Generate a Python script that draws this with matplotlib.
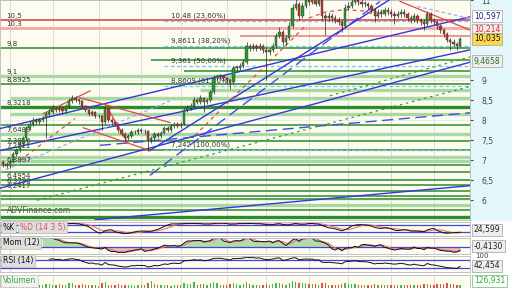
import numpy as np
import pandas as pd
import matplotlib
matplotlib.use("Agg")
import matplotlib.pyplot as plt
from matplotlib.patches import Rectangle
from matplotlib import transforms

# daily closes / highs / lows
closes = [6.90, 6.85, 6.95, 7.15, 7.25, 7.40, 7.55, 7.80, 7.90, 8.00,
          7.95, 8.00, 8.05, 8.15, 8.20, 8.30, 8.25, 8.30, 8.22, 8.35,
          8.47, 8.55, 8.50, 8.48, 8.35, 8.25, 8.15, 8.20, 8.10, 8.10,
          7.95, 8.30, 8.00, 7.95, 7.90, 7.75, 7.65, 7.55, 7.60, 7.70,
          7.70, 7.75, 7.72, 7.72, 7.50, 7.55, 7.65, 7.60, 7.68, 7.80,
          7.75, 7.85, 7.90, 7.85, 7.90, 8.25, 8.30, 8.35, 8.50, 8.45,
          8.55, 8.45, 8.50, 8.70, 9.05, 9.10, 9.10, 9.05, 9.00, 8.95,
          9.30, 9.30, 9.35, 9.45, 9.85, 9.80, 9.85, 9.80, 9.85, 9.75,
          9.70, 9.75, 9.85, 10.10, 10.20, 9.95, 10.05, 10.35, 10.80, 10.90,
          10.60, 10.85, 11.00, 10.95, 11.05, 10.90, 11.00, 10.60, 10.55, 10.60,
          10.55, 10.50, 10.45, 10.35, 10.80, 10.85, 10.95, 11.00, 10.95, 10.90,
          10.90, 10.85, 10.75, 10.60, 10.70, 10.65, 10.75, 10.70, 10.65, 10.60,
          10.65, 10.70, 10.65, 10.55, 10.50, 10.60, 10.50, 10.45, 10.40, 10.65,
          10.50, 10.45, 10.35, 10.25, 10.15, 10.00, 9.95, 9.90, 9.85, 10.035]
highs = [7.00, 6.95, 7.00, 7.20, 7.30, 7.45, 7.60, 7.85, 7.98, 8.08,
         8.05, 8.05, 8.10, 8.20, 8.28, 8.38, 8.35, 8.35, 8.33, 8.40,
         8.55, 8.62, 8.60, 8.55, 8.50, 8.38, 8.28, 8.25, 8.22, 8.15,
         8.12, 8.35, 8.32, 8.05, 7.98, 7.92, 7.80, 7.70, 7.65, 7.75,
         7.76, 7.80, 7.80, 7.78, 7.75, 7.60, 7.70, 7.70, 7.72, 7.85,
         7.85, 7.90, 7.95, 7.95, 7.95, 8.30, 8.38, 8.42, 8.58, 8.55,
         8.62, 8.58, 8.56, 8.75, 9.12, 9.15, 9.15, 9.12, 9.08, 9.05,
         9.35, 9.38, 9.42, 9.52, 9.95, 9.90, 9.92, 9.90, 9.92, 9.90,
         9.80, 9.80, 9.92, 10.18, 10.32, 10.25, 10.12, 10.45, 10.90, 11.05,
         10.95, 10.95, 11.10, 11.10, 11.15, 11.10, 11.10, 11.05, 10.68, 10.70,
         10.68, 10.62, 10.58, 10.50, 10.90, 10.95, 11.05, 11.10, 11.08, 11.02,
         10.98, 10.95, 10.90, 10.80, 10.78, 10.78, 10.82, 10.82, 10.78, 10.72,
         10.72, 10.78, 10.78, 10.70, 10.62, 10.68, 10.66, 10.56, 10.52, 10.72,
         10.70, 10.56, 10.50, 10.40, 10.30, 10.20, 10.05, 10.02, 9.95, 10.08]
lows = [6.82, 6.80, 6.80, 6.92, 7.10, 7.20, 7.35, 7.50, 7.75, 7.85,
        7.90, 7.90, 7.95, 7.55, 8.10, 8.15, 8.20, 8.20, 8.15, 8.18,
        8.30, 8.42, 8.45, 8.40, 8.30, 8.20, 8.10, 8.10, 8.05, 8.05,
        7.75, 7.90, 7.95, 7.88, 7.85, 7.70, 7.60, 7.48, 7.50, 7.55,
        7.65, 7.65, 7.68, 7.66, 7.24, 7.42, 7.50, 7.55, 7.55, 7.65,
        7.70, 7.70, 7.80, 7.80, 7.80, 7.88, 8.20, 8.25, 8.30, 8.40,
        8.40, 8.20, 8.40, 8.45, 8.65, 9.00, 9.02, 8.98, 8.92, 8.78,
        8.90, 9.22, 9.25, 9.30, 9.40, 9.72, 9.75, 9.72, 9.75, 9.68,
        9.00, 9.62, 9.70, 9.80, 10.05, 9.85, 9.88, 10.00, 10.30, 10.75,
        10.50, 10.55, 10.80, 10.88, 10.90, 10.85, 10.85, 10.50, 10.12, 10.48,
        10.45, 10.42, 10.38, 10.20, 10.30, 10.75, 10.80, 10.90, 10.88, 10.82,
        10.82, 10.78, 10.68, 10.45, 10.55, 10.58, 10.60, 10.62, 10.58, 10.40,
        10.55, 10.58, 10.58, 10.48, 10.42, 10.45, 10.42, 10.38, 10.25, 10.35,
        10.42, 10.38, 10.28, 10.18, 10.08, 9.95, 9.75, 9.85, 9.75, 9.82]
opens = [6.95] + closes[:-1]
volumes = [150, 120, 180, 220, 160, 140, 210, 250, 170, 130, 110, 150, 140, 190, 160, 120, 130, 170, 110, 140,
           200, 230, 150, 120, 180, 140, 110, 130, 120, 100, 210, 260, 150, 130, 120, 160, 140, 150, 120, 110,
           100, 120, 110, 130, 240, 300, 160, 120, 140, 130, 110, 100, 120, 130, 110, 220, 180, 160, 250, 140,
           160, 190, 150, 230, 280, 200, 150, 140, 130, 170, 210, 160, 150, 180, 260, 170, 150, 140, 130, 150,
           190, 140, 160, 220, 240, 180, 150, 200, 290, 250, 230, 210, 200, 170, 180, 160, 150, 230, 210, 140,
           130, 120, 140, 170, 230, 160, 180, 190, 150, 140, 130, 120, 140, 160, 120, 110, 130, 120, 140, 150,
           110, 120, 130, 140, 150, 120, 130, 140, 160, 180, 150, 140, 160, 170, 190, 200, 180, 160, 150, 127]
month_starts = [2, 15, 29, 42, 54, 68, 80, 93, 105, 118, 131]

# support / resistance levels
red_levels = [10.5, 10.3, 10.1]
red_from = [-1, -1, 72]
dark_levels = [9.8, 9.5, 9.23, 8.8925, 8.3218, 7.89, 7.49, 7.2521, 6.8897, 6.70,
               6.4954, 6.379, 6.2417, 6.10, 6.03, 5.75, 5.58]
dark_from = [-1, 45, 55, -1, -1, -1, -1, -1, -1, -1, -1, -1, -1, -1, -1, -1, -1]
light_levels = [9.1, 8.76, 8.56, 8.16, 7.6489, 7.07, 6.97, 5.88]
light_from = [-1, 60, 2, 2, -1, -1, -1, -1]
left_vals = [10.5, 10.3, 9.8, 9.1, 8.8925, 8.3218, 7.6489, 7.3816, 7.2521, 6.8897, 6.4954, 6.379, 6.2417]
left_text = ["10,5", "10,3", "9,8", "9,1", "8,8925", "8,3218", "7,6489", "7,3816", "7,2521",
             "6,8897", "6,4954", "6,3790", "6,2417"]
fib_vals = [10.48, 9.8611, 9.361, 8.8609, 7.242]
fib_text = ["10,48 (23,60%)", "9,8611 (38,20%)", "9,361 (50,00%)", "8,8609 (61,80%)", "7,242 (100,00%)"]

# trend lines (index, price) -> (index, price)
blue_lines = [((44.6, 7.24), (117.6, 11.01)), ((-1, 7.79), (142.9, 10.597)),
              ((-1, 7.24), (142.9, 9.77)), ((-1, 6.30), (142.9, 9.4658)),
              ((27.9, 5.51), (142.9, 6.37))]
blue_dashed = [((29.4, 7.37), (142.9, 8.19)), ((44.6, 6.62), (114.6, 10.965))]
lav_dashed = [((-1, 6.70), (50.7, 8.48)), ((125.9, 10.84), (142.9, 10.52))]
red_lines = [((120.7, 10.965), (142.9, 10.22)), ((12.1, 8.16), (26.4, 8.73)),
             ((23.3, 8.56), (50.7, 7.94)), ((30.9, 8.41), (37.9, 7.44)),
             ((24.3, 7.81), (44.6, 7.24))]
red_dashed = [((58.3, 7.62), (92.4, 10.39)), ((5.1, 6.99), (21.8, 8.04))]
arc_x = [93, 98, 104, 110, 114]
arc_y = [10.55, 10.70, 10.76, 10.72, 10.60]
green_dotted = [((10.3, 6.00), (142.9, 8.86)), ((99.4, 8.61), (142.9, 9.60))]

GREEN = "#2b8c2b"
LGREEN = "#a9d9a2"
BG = "#fcfcf0"
n = len(closes)
x = np.arange(n)
c = pd.Series(closes)
hi = pd.Series(highs)
lo = pd.Series(lows)

fig = plt.figure(figsize=(5.12, 2.88), dpi=100)
fig.patch.set_facecolor("white")
fig.patches.append(Rectangle((470 / 512, 68 / 288), 42 / 512, 220 / 288,
                             transform=fig.transFigure, color="#e4f7fb", zorder=-5))

ax = fig.add_axes([0, 68 / 288, 470 / 512, 220 / 288])
ax_st = fig.add_axes([0, 52 / 288, 470 / 512, 14 / 288])
ax_mo = fig.add_axes([0, 34 / 288, 470 / 512, 16 / 288])
ax_rs = fig.add_axes([0, 16 / 288, 470 / 512, 16 / 288])
ax_vo = fig.add_axes([0, 0, 470 / 512, 13 / 288])

for a in [ax, ax_st, ax_mo, ax_rs, ax_vo]:
    a.set_facecolor(BG)
    a.set_xlim(-1, 142)
    a.set_xticks([])
    for s in a.spines.values():
        s.set_color("#b8b8b8")
        s.set_linewidth(0.6)
    for m in month_starts:
        a.axvline(m, color="#d6d6d6", lw=0.6, zorder=0)

# ---- main price panel
ax.set_ylim(5.506, 10.965)
ax.yaxis.tick_right()
ticks = [6, 6.5, 7, 7.5, 8, 8.5, 9, 11]
ax.set_yticks(ticks)
ax.set_yticklabels([f"{t:g}".replace(".", ",") for t in ticks])
ax.tick_params(axis="y", labelsize=5.5, length=2, pad=6, colors="#444444")
for t in ticks:
    ax.axhline(t, color="#e4e4e4", lw=0.5, zorder=0)

for v, f in zip(light_levels, light_from):
    ax.hlines(v, f, 143, color=LGREEN, lw=2.4, zorder=1)
for v, f in zip(dark_levels, dark_from):
    ax.hlines(v, f, 143, color=GREEN, lw=2.4 if v in (8.3218, 5.58) else 1.1, zorder=2)
ax.hlines(red_levels[0], red_from[0], 143, color="#e05555", lw=1.3, zorder=2)
ax.hlines(red_levels[1], red_from[1], 143, color="#f3a8a8", lw=2.0, zorder=2)
ax.hlines(red_levels[2], red_from[2], 143, color="#e27a7a", lw=1.1, zorder=2)
for v in fib_vals:
    ax.hlines(v, 49, 143, color="#7cc4f2", lw=0.9, linestyles=(0, (3, 2)), zorder=2)

def seg(a, lines, **kw):
    for (x0, y0), (x1, y1) in lines:
        a.plot([x0, x1], [y0, y1], **kw)

seg(ax, blue_lines, color="#3535e0", lw=1.0, zorder=3)
seg(ax, blue_dashed, color="#4a4ae0", lw=1.0, ls=(0, (8, 4)), zorder=3)
seg(ax, lav_dashed, color="#a8a8f0", lw=0.9, ls=(0, (3, 2)), zorder=3)
seg(ax, red_lines, color="#e04848", lw=0.9, zorder=3)
seg(ax, red_dashed, color="#e04848", lw=0.9, ls=(0, (3, 3)), zorder=3)
ax.plot(arc_x, arc_y, color="#e04848", lw=0.9, ls=(0, (3, 3)), zorder=3)
seg(ax, green_dotted, color="#3a9a3a", lw=0.9, ls=(0, (2, 3)), zorder=3)

# candles
up = [cc >= oo for cc, oo in zip(closes, opens)]
ax.vlines(x, lows, highs, color="#222222", lw=0.5, zorder=4)
body_lo = [min(o, cc) for o, cc in zip(opens, closes)]
body_h = [max(abs(cc - o), 0.015) for o, cc in zip(opens, closes)]
ax.bar(x, body_h, bottom=body_lo, width=0.7,
       color=["#2a9a2a" if u else "#cc3030" for u in up],
       edgecolor="#333333", linewidth=0.3, zorder=5)

small = dict(fontsize=5, color="#333333")
for v, t in zip(left_vals, left_text):
    ax.annotate(t, (1, v), xytext=(0, 1), textcoords="offset points", va="bottom", ha="left", **small)
for v, t in zip(fib_vals, fib_text):
    ax.annotate(t, (51, v), xytext=(0, 1.5), textcoords="offset points", va="bottom", ha="left", **small)
ax.text(1, 5.68, "ADVFinance.com", fontsize=5.5, color="#555555", zorder=6)

tr = transforms.blended_transform_factory(ax.transAxes, ax.transData)
def box(a, trf, y, txt, fc, tc, ec="#a0a0a0"):
    a.text(1.008, y, txt, transform=trf, fontsize=5.5, color=tc, va="center", ha="left",
           bbox=dict(boxstyle="square,pad=0.2", fc=fc, ec=ec, lw=0.5), clip_on=False, zorder=10)

box(ax, tr, 10.26, "10,214", "#fbe8e8", "#d03030")
box(ax, tr, 10.597, "10,597", "white", "#202080")
box(ax, tr, 10.035, "10,035", "#ffd84a", "#111111")
box(ax, tr, 9.4658, "9,4658", "#eeeeee", "#2a6a2a")

# ---- stochastic
ll = lo.rolling(14).min()
hh = hi.rolling(14).max()
k_raw = 100 * (c - ll) / (hh - ll)
k = k_raw.rolling(3).mean()
d = k.rolling(5).mean()
ax_st.set_ylim(-14, 106)
ax_st.set_yticks([])
ax_st.axhline(80, color="#4444dd", lw=0.9)
ax_st.axhline(20, color="#4444dd", lw=0.9)
ax_st.plot(x, d, color="#ee7070", lw=0.8)
ax_st.plot(x, k, color="#111111", lw=0.7)

# ---- momentum
mom = c - c.shift(12)
mom_sig = mom.rolling(3).mean()
ax_mo.set_ylim(-0.93, 1.2)
ax_mo.set_yticks([])
ax_mo.fill_between(x, 0, mom, where=mom > 0, color="#b3dcaa", lw=0, interpolate=True)
ax_mo.fill_between(x, 0, mom, where=mom < 0, color="#f4b4b4", lw=0, interpolate=True)
ax_mo.axhline(0, color="#4444dd", lw=0.9)
ax_mo.plot(x, mom_sig, color="#ee7070", lw=0.8)
ax_mo.plot(x, mom, color="#111111", lw=0.7)

# ---- RSI
delta = c.diff()
gain = delta.clip(lower=0).ewm(alpha=1 / 14, adjust=False, min_periods=14).mean()
loss = (-delta.clip(upper=0)).ewm(alpha=1 / 14, adjust=False, min_periods=14).mean()
rsi = 100 - 100 / (1 + gain / loss)
ax_rs.set_ylim(10, 90)
ax_rs.set_yticks([])
ax_rs.axhline(70, color="#4444dd", lw=0.9)
ax_rs.axhline(30, color="#4444dd", lw=0.9)
ax_rs.plot(x, rsi, color="#111111", lw=0.7)

# ---- volume
ax_vo.set_ylim(0, max(volumes) * 1.9)
ax_vo.set_yticks([])
ax_vo.bar(x, volumes, width=0.4, color=["#44bb44" if u else "#e05050" for u in up])

lab = dict(fontsize=5.5, va="center", ha="left", zorder=10)
gbox = dict(boxstyle="square,pad=0.2", fc="#dedede", ec="#b0b0b0", lw=0.4)
ax_st.text(0.006, 0.62, "%K", transform=ax_st.transAxes, color="#111111", bbox=gbox, **lab)
ax_st.text(0.042, 0.62, "%D (14 3 5)", transform=ax_st.transAxes, color="#e05050", bbox=gbox, **lab)
ax_mo.text(0.006, 0.72, "Mom (12)", transform=ax_mo.transAxes, color="#111111", bbox=gbox, **lab)
ax_rs.text(0.006, 0.72, "RSI (14)", transform=ax_rs.transAxes, color="#111111", bbox=gbox, **lab)
ax_vo.text(0.006, 0.55, "Volumen", transform=ax_vo.transAxes, color="#33aa33",
           bbox=dict(boxstyle="square,pad=0.2", fc="#f2f2f2", ec="#c0c0c0", lw=0.4), **lab)

box(ax_st, ax_st.transAxes, 0.45, "24,599", "#eeeeee", "#222222")
box(ax_mo, ax_mo.transAxes, 0.5, "-0,4130", "#eeeeee", "#222222")
ax_rs.text(1.012, 1.0, "100", transform=ax_rs.transAxes, fontsize=5, color="#444444", va="center")
box(ax_rs, ax_rs.transAxes, 0.4, "42,454", "#eeeeee", "#222222")
box(ax_vo, ax_vo.transAxes, 0.55, "126,931", "white", "#33aa33", ec="#66bb66")

fig.savefig("out.png", dpi=100, facecolor=fig.get_facecolor())
